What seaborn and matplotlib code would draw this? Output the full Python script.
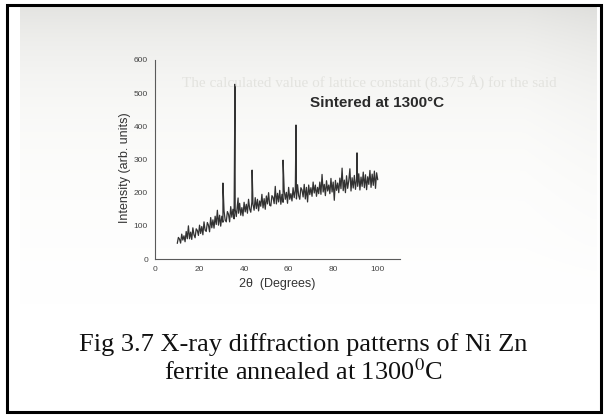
import numpy as np
import pandas as pd
import matplotlib
matplotlib.use("Agg")
import matplotlib.pyplot as plt
import seaborn as sns
from matplotlib.patches import Rectangle

# ---------------- data ----------------
two_theta_start = 10.0
two_theta_step = 0.5
intensity = [
    47, 65, 60, 48, 75, 57, 70, 52, 83, 61,            # 10.0 - 14.5
    100, 61, 81, 59, 94, 73, 64, 91, 86, 71,           # 15.0 - 19.5
    102, 77, 98, 73, 112, 87, 83, 110, 102, 82,        # 20.0 - 24.5
    125, 94, 118, 93, 129, 104, 147, 102, 132, 99,     # 25.0 - 29.5
    129, 111, 145, 117, 112, 143, 135, 112, 158, 126,  # 30.0 - 34.5
    150, 121, 150, 128, 161, 138, 168, 132, 155, 130,  # 35.0 - 39.5
    171, 142, 165, 138, 180, 151, 141, 172, 165, 147,  # 40.0 - 44.5
    185, 152, 180, 145, 175, 159, 195, 154, 182, 150,  # 45.0 - 49.5
    190, 166, 200, 162, 160, 191, 186, 167, 219, 166,  # 50.0 - 54.5
    198, 172, 207, 165, 195, 171, 208, 180, 201, 168,  # 55.0 - 59.5
    216, 180, 197, 175, 215, 185, 209, 181, 224, 191,  # 60.0 - 64.5
    180, 215, 208, 187, 225, 181, 216, 172, 223, 194,  # 65.0 - 69.5
    215, 189, 232, 199, 223, 189, 216, 197, 232, 195,  # 70.0 - 74.5
    255, 202, 225, 191, 236, 205, 223, 197, 243, 202,  # 75.0 - 79.5
    232, 177, 237, 207, 229, 200, 244, 212, 274, 206,  # 80.0 - 84.5
    238, 200, 251, 213, 236, 272, 205, 245, 214, 252,  # 85.0 - 89.5
    210, 241, 219, 257, 208, 247, 219, 262, 215, 254,  # 90.0 - 94.5
    209, 248, 225, 267, 216, 256, 222, 265, 213, 260,  # 95.0 - 99.5
    239,                                               # 100.0
]
peak_two_theta = [30.5, 35.9, 37.3, 43.6, 57.5, 63.3, 90.7]
peak_intensity = [229, 527, 184, 268, 298, 404, 320]

x_ticks = [0, 20, 40, 60, 80, 100]
y_ticks = [0, 100, 200, 300, 400, 500, 600]

title_text = "Sintered at 1300°C"
x_label = "2θ  (Degrees)"
y_label = "Intensity (arb. units)"
caption_1 = "Fig 3.7 X-ray diffraction patterns of Ni Zn"
caption_2 = r"ferrite annealed at 1300$^{0}$C"
bleed_1 = "The calculated value of lattice constant (8.375 Å) for the said"

# ---------------- build table ----------------
two_theta = two_theta_start + two_theta_step * np.arange(len(intensity))
df = pd.concat([
    pd.DataFrame({"two_theta": two_theta, "intensity": intensity}),
    pd.DataFrame({"two_theta": peak_two_theta, "intensity": peak_intensity}),
]).sort_values("two_theta").reset_index(drop=True)

# ---------------- style ----------------
sns.set_style("white")
plt.rcParams["font.family"] = ["Liberation Sans", "DejaVu Sans"]
plt.rcParams["mathtext.fontset"] = "stix"

W, H = 608, 418
fig = plt.figure(figsize=(W / 100, H / 100), dpi=100)
fig.patch.set_facecolor("white")

# scanned-page background (light grey at the top, fading to white)
bg = fig.add_axes([20 / W, 1 - 305 / H, 577 / W, 299 / H])
rows = np.linspace(0, 1, 200)
vals = 228 + 27 * (1 - np.exp(-rows * 4.0))
vals = np.where(rows > 0.8, vals + (255 - vals) * (rows - 0.8) / 0.2, vals)
grad = np.repeat(vals[:, None], 60, axis=1)
cols = np.linspace(0, 1, 60)
grad = grad - 5 * np.clip((cols - 0.88) / 0.12, 0, 1)[None, :] * (1 - rows[:, None])
img = np.stack([grad, grad, grad - 2.5 * (1 - rows[:, None])], axis=-1) / 255.0
bg.imshow(np.clip(img, 0, 1), aspect="auto", interpolation="bilinear")
bg.axis("off")

# faint bleed-through text of the scanned page
fig.text(182 / W, 1 - 87 / H, bleed_1, family="Liberation Serif", fontsize=11,
         color="#e3e3df", va="baseline", ha="left")

# main axes
ax = fig.add_axes([155 / W, 1 - 259 / H, 245 / W, 199 / H])
ax.patch.set_alpha(0)
sns.lineplot(data=df, x="two_theta", y="intensity", ax=ax, color="#323232",
             linewidth=0.9, estimator=None, sort=True, legend=False)

ax.set_xlim(0, 110)
ax.set_ylim(0, 600)
ax.set_xticks(x_ticks)
ax.set_yticks(y_ticks)
for s in ["top", "right"]:
    ax.spines[s].set_visible(False)
for s in ["left", "bottom"]:
    ax.spines[s].set_color("#5a5a5a")
    ax.spines[s].set_linewidth(0.8)
ax.tick_params(axis="both", direction="out", length=3, width=0.7, color="#5a5a5a",
               labelsize=6, labelcolor="#444444", pad=2)

ax.set_xlabel(x_label, fontsize=9, color="#333333")
ax.set_ylabel(y_label, fontsize=9, color="#333333")
ax.xaxis.set_label_coords(0.498, -0.126)
ax.yaxis.set_label_coords(-0.122, 0.46)
ax.xaxis.label.set_va("center")
ax.yaxis.label.set_va("center")

ax.text(0.908, 0.764, title_text, transform=ax.transAxes, ha="center",
        va="baseline", fontsize=11, fontweight="bold", color="#2a2a2a")

# caption
fig.text(303 / W, 1 - 351 / H, caption_1, family="Liberation Serif", fontsize=19,
         color="#111111", ha="center", va="baseline")
fig.text(303 / W, 1 - 380 / H, caption_2, family="Liberation Serif", fontsize=19,
         color="#111111", ha="center", va="baseline")

# outer frame
fig.patches.append(Rectangle((6.5 / W, 1 - 412 / H), 594 / W, 407 / H,
                             transform=fig.transFigure, fill=False,
                             edgecolor="black", linewidth=2.2, zorder=10))

fig.savefig("out.png", dpi=100)
